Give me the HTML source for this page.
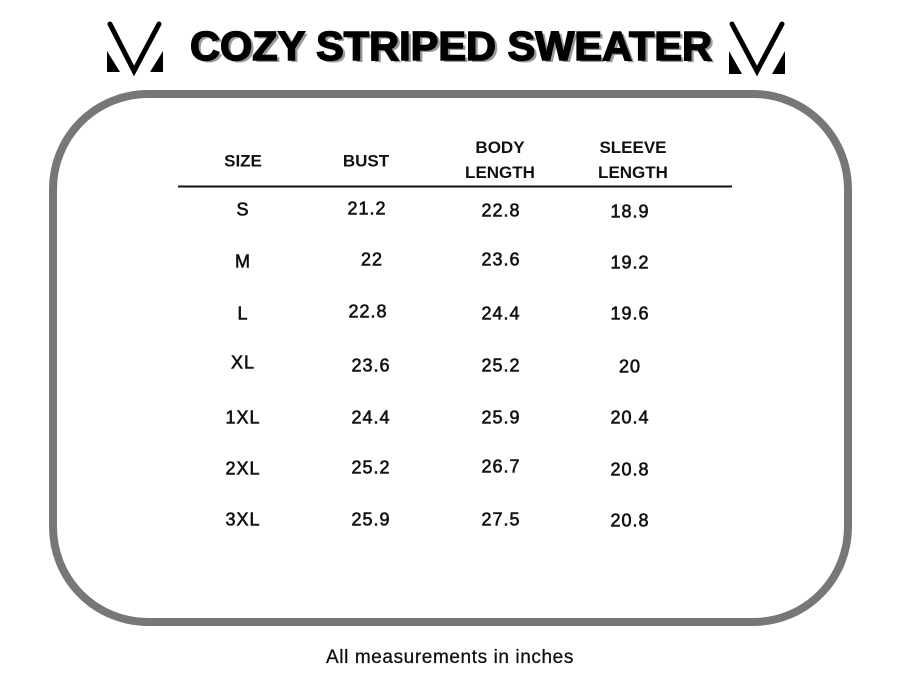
<!DOCTYPE html>
<html><head><style>
body{margin:0;background:#fff;width:900px;height:695px;overflow:hidden;position:relative;font-family:"Liberation Sans",sans-serif;}
.t{position:absolute;transform:translate(-50%,-50%);font-size:18px;letter-spacing:1px;color:#111;white-space:nowrap;-webkit-text-stroke:0.6px #111;}
.h{font-weight:bold;-webkit-text-stroke:0;font-size:17px;letter-spacing:0;line-height:25px;text-align:center;}
</style></head><body>
<svg width="900" height="695" style="position:absolute;left:0;top:0">
<rect x="53" y="94" width="795" height="528" rx="95" ry="95" fill="none" stroke="#777" stroke-width="8"/>
<g fill="#000">
<polyline points="110,24 134,71 159,24" fill="none" stroke="#000" stroke-width="5" stroke-linecap="round"/>
<polygon points="107,51 107,72 120,72"/>
<polygon points="163,51 163,72 150,72"/>
</g>
<g fill="#000">
<polyline points="732,24 757,71 782,24" fill="none" stroke="#000" stroke-width="5" stroke-linecap="round"/>
<polygon points="729,51 729,74 742,74"/>
<polygon points="785,51 785,74 772,74"/>
</g>
<text x="454" y="62" text-anchor="middle" font-family="Liberation Sans" font-weight="bold" font-size="41" fill="#999" textLength="522" lengthAdjust="spacingAndGlyphs">COZY STRIPED SWEATER</text>
<text x="451" y="60" text-anchor="middle" font-family="Liberation Sans" font-weight="bold" font-size="41" fill="#000" stroke="#000" stroke-width="1.5" textLength="522" lengthAdjust="spacingAndGlyphs">COZY STRIPED SWEATER</text>
<line x1="178" y1="186.5" x2="732" y2="186.5" stroke="#111" stroke-width="2"/>
</svg>
<div class="t h" style="left:243px;top:161px">SIZE</div>
<div class="t h" style="left:366px;top:161px">BUST</div>
<div class="t h" style="left:500px;top:160px">BODY<br>LENGTH</div>
<div class="t h" style="left:633px;top:160px">SLEEVE<br>LENGTH</div>

<div class="t" style="left:243px;top:210px">S</div><div class="t" style="left:367px;top:209px">21.2</div><div class="t" style="left:501px;top:211px">22.8</div><div class="t" style="left:630px;top:212px">18.9</div>
<div class="t" style="left:243px;top:262px">M</div><div class="t" style="left:372px;top:260px">22</div><div class="t" style="left:501px;top:260px">23.6</div><div class="t" style="left:630px;top:263px">19.2</div>
<div class="t" style="left:243px;top:314px">L</div><div class="t" style="left:368px;top:312px">22.8</div><div class="t" style="left:501px;top:314px">24.4</div><div class="t" style="left:630px;top:314px">19.6</div>
<div class="t" style="left:243px;top:363px">XL</div><div class="t" style="left:371px;top:366px">23.6</div><div class="t" style="left:501px;top:366px">25.2</div><div class="t" style="left:630px;top:367px">20</div>
<div class="t" style="left:243px;top:418px">1XL</div><div class="t" style="left:371px;top:418px">24.4</div><div class="t" style="left:501px;top:418px">25.9</div><div class="t" style="left:630px;top:418px">20.4</div>
<div class="t" style="left:243px;top:469px">2XL</div><div class="t" style="left:371px;top:468px">25.2</div><div class="t" style="left:501px;top:467px">26.7</div><div class="t" style="left:630px;top:470px">20.8</div>
<div class="t" style="left:243px;top:520px">3XL</div><div class="t" style="left:371px;top:520px">25.9</div><div class="t" style="left:501px;top:520px">27.5</div><div class="t" style="left:630px;top:521px">20.8</div>

<div class="t" style="left:450px;top:658px;font-size:19px;letter-spacing:0.6px;-webkit-text-stroke:0.3px #111">All measurements in inches</div>
</body></html>
